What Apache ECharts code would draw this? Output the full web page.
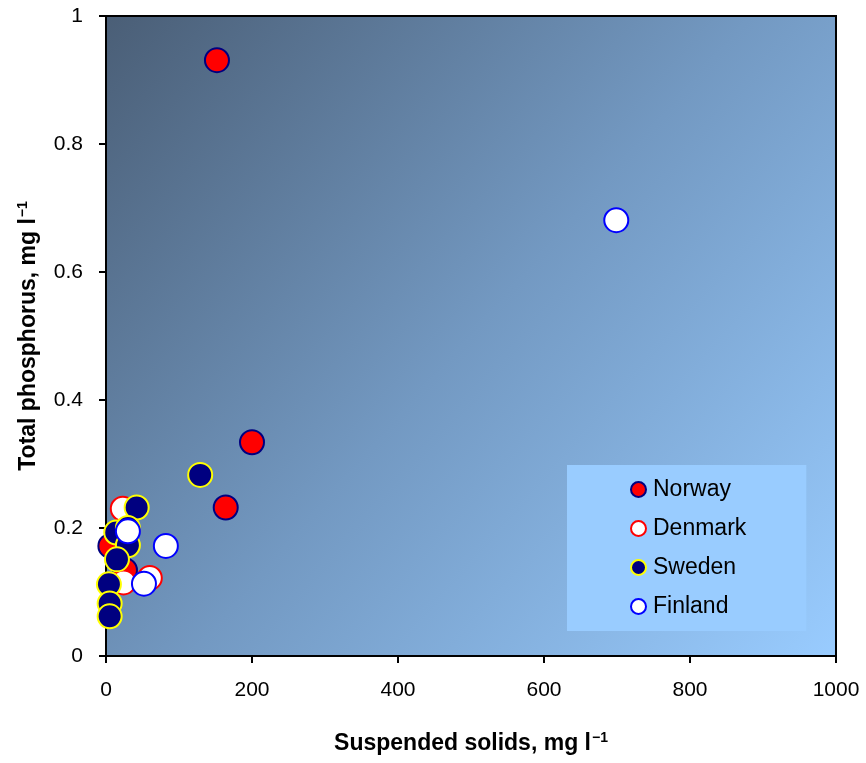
<!DOCTYPE html>
<html>
<head>
<meta charset="utf-8">
<script src="https://cdn.jsdelivr.net/npm/echarts@6/dist/echarts.min.js"></script>
<style>html,body{margin:0;padding:0;background:#fff;}#c{width:866px;height:763px;}</style>
</head>
<body>
<div id="c"></div>
<script>
const seriesNames = ['Norway', 'Denmark', 'Sweden', 'Finland'];
const norway = [[152, 0.931], [200, 0.334], [164, 0.232], [26, 0.134], [6, 0.172]];
const denmark = [[23, 0.230], [60, 0.122], [24, 0.115]];
const sweden = [[129, 0.283], [42, 0.232], [14, 0.193], [30, 0.200], [30, 0.173], [15, 0.151], [4, 0.112], [5, 0.082], [5, 0.062]];
const finland = [[699, 0.681], [82, 0.172], [52, 0.113], [30, 0.195]];
const xTicks = [0, 200, 400, 600, 800, 1000];
const yTicks = [0, 0.2, 0.4, 0.6, 0.8, 1];

const styles = {
  Norway: {color: '#ff0000', borderColor: '#000080'},
  Denmark: {color: '#ffffff', borderColor: '#ff0000'},
  Sweden: {color: '#000080', borderColor: '#ffff00'},
  Finland: {color: '#ffffff', borderColor: '#0000ff'}
};
const dataMap = {Norway: norway, Denmark: denmark, Sweden: sweden, Finland: finland};
const font = 'Liberation Sans, Arial, sans-serif';

const chart = echarts.init(document.getElementById('c'), null, {renderer: 'canvas'});
chart.setOption({
  animation: false,
  grid: {
    left: 106, right: 30, top: 16, bottom: 107,
    show: true,
    borderColor: '#000', borderWidth: 2,
    backgroundColor: new echarts.graphic.LinearGradient(0, 0, 1, 1, [
      {offset: 0, color: '#4a5e76'},
      {offset: 0.5, color: '#7399c2'},
      {offset: 1, color: '#99ccff'}
    ])
  },
  xAxis: {
    type: 'value', min: 0, max: 1000, interval: 200,
    name: '{a|Suspended solids, mg l}{s|−1}',
    nameLocation: 'middle', nameGap: 75,
    nameTextStyle: {rich: {
      a: {fontFamily: font, fontWeight: 'bold', fontSize: 23, color: '#000'},
      s: {fontFamily: font, fontWeight: 'bold', fontSize: 14, color: '#000', verticalAlign: 'top', padding: [0, 0, 12, 1]}
    }},
    axisLine: {show: true, lineStyle: {color: '#000', width: 2}},
    axisTick: {show: true, length: 7, inside: false, lineStyle: {color: '#000', width: 2}},
    axisLabel: {fontFamily: font, fontSize: 21, color: '#000', margin: 24,
      formatter: v => xTicks.includes(v) ? String(v) : ''},
    splitLine: {show: false}
  },
  yAxis: {
    type: 'value', min: 0, max: 1, interval: 0.2,
    name: '{a|Total phosphorus, mg l}{s|−1}',
    nameLocation: 'middle', nameGap: 64, nameRotate: 90,
    nameTextStyle: {rich: {
      a: {fontFamily: font, fontWeight: 'bold', fontSize: 23, color: '#000'},
      s: {fontFamily: font, fontWeight: 'bold', fontSize: 14, color: '#000', verticalAlign: 'top', padding: [0, 0, 12, 1]}
    }},
    axisLine: {show: true, lineStyle: {color: '#000', width: 2}},
    axisTick: {show: true, length: 7, inside: false, lineStyle: {color: '#000', width: 2}},
    axisLabel: {fontFamily: font, fontSize: 21, color: '#000', margin: 23,
      formatter: v => { const t = yTicks.find(y => Math.abs(y - v) < 1e-9); return t === undefined ? '' : String(t); }},
    splitLine: {show: false}
  },
  legend: {
    orient: 'vertical',
    left: 567, top: 465,
    data: seriesNames,
    backgroundColor: '#99ccff',
    padding: [13, 60, 13, 63],
    itemWidth: 15, itemHeight: 15, itemGap: 16,
    icon: 'circle',
    textStyle: {fontFamily: font, fontSize: 23, color: '#000', padding: [0, 0, 0, 2]}
  },
  series: seriesNames.map(n => ({
    name: n, type: 'scatter',
    data: dataMap[n],
    symbol: 'circle', symbolSize: 24,
    itemStyle: {color: styles[n].color, borderColor: styles[n].borderColor, borderWidth: 2, opacity: 1},
    emphasis: {disabled: true}
  }))
});
</script>
</body>
</html>
